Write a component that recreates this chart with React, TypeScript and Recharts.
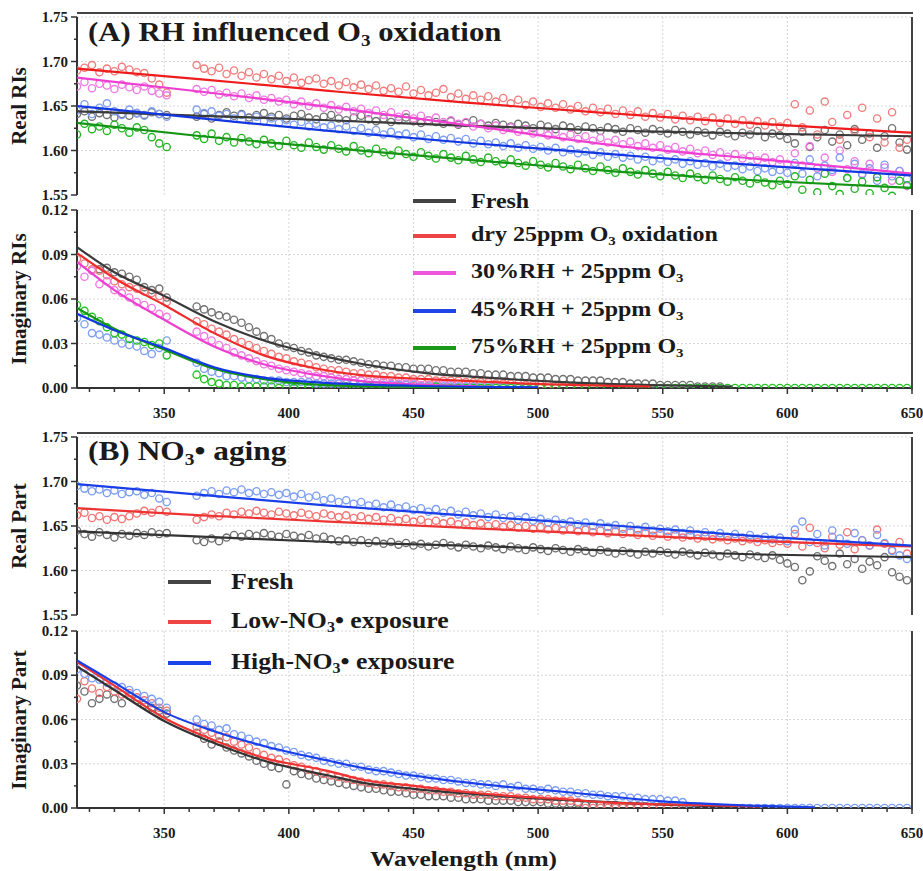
import React from "react";
import { ComposedChart, Scatter, Line, XAxis, YAxis, CartesianGrid } from "recharts";

// wavelength grid of the retrieved points (nm); gap 352-362 as in the measurement
const WL = [
  315, 318, 321, 324, 327, 330, 333, 336, 339, 342, 345, 348, 351,
  363, 366, 369, 372, 375, 378, 381, 384, 387, 390,
  393, 396, 399, 402, 405, 408, 411, 414, 417, 420,
  423, 426, 429, 432, 435, 438, 441, 444, 447, 450,
  453, 456, 459, 462, 465, 468, 471, 474, 477, 480,
  483, 486, 489, 492, 495, 498, 501, 504, 507, 510,
  513, 516, 519, 522, 525, 528, 531, 534, 537, 540,
  543, 546, 549, 552, 555, 558, 561, 564, 567, 570,
  573, 576, 579, 582, 585, 588, 591, 594, 597, 600,
  603, 606, 609, 612, 615, 618, 621, 624, 627, 630,
  633, 636, 639, 642, 645, 648,
];

// ---- (A) real part ----
const A_RE_FRESH = [
  1.641, 1.644, 1.638, 1.642, 1.640, 1.637, 1.641, 1.639, 1.642, 1.640, 1.643, 1.641, 1.640,
  1.638, 1.641, 1.636, 1.640, 1.643, 1.639, 1.641, 1.637, 1.640, 1.642,
  1.638, 1.640, 1.636, 1.639, 1.641, 1.637, 1.635, 1.638, 1.640, 1.636,
  1.634, 1.637, 1.639, 1.635, 1.633, 1.636, 1.632, 1.634, 1.637, 1.633,
  1.631, 1.634, 1.632, 1.630, 1.633, 1.629, 1.631, 1.634, 1.630, 1.628,
  1.631, 1.629, 1.627, 1.630, 1.628, 1.625, 1.629, 1.627, 1.624, 1.628,
  1.626, 1.623, 1.627, 1.625, 1.622, 1.626, 1.624, 1.621, 1.625, 1.623,
  1.620, 1.624, 1.622, 1.619, 1.623, 1.621, 1.618, 1.622, 1.620, 1.617,
  1.621, 1.619, 1.616, 1.620, 1.618, 1.622, 1.615, 1.619, 1.617, 1.613,
  1.608, 1.621, 1.604, 1.615, 1.623, 1.610, 1.618, 1.606, 1.624, 1.612,
  1.619, 1.603, 1.616, 1.625, 1.609, 1.601,
];
const A_RE_DRY = [
  1.690, 1.693, 1.696, 1.688, 1.692, 1.689, 1.694, 1.691, 1.688, 1.687, 1.681, 1.674, 1.665,
  1.696, 1.692, 1.689, 1.693, 1.686, 1.690, 1.684, 1.688, 1.682, 1.686,
  1.680, 1.684, 1.678, 1.682, 1.676, 1.679, 1.681, 1.675, 1.678, 1.673,
  1.677, 1.671, 1.674, 1.669, 1.673, 1.667, 1.670, 1.666, 1.672, 1.664,
  1.668, 1.662, 1.665, 1.669, 1.660, 1.664, 1.658, 1.662, 1.657, 1.661,
  1.655, 1.659, 1.653, 1.657, 1.651, 1.655, 1.649, 1.653, 1.648, 1.652,
  1.646, 1.650, 1.644, 1.648, 1.643, 1.647, 1.641, 1.645, 1.640, 1.644,
  1.638, 1.642, 1.637, 1.641, 1.635, 1.639, 1.634, 1.638, 1.633, 1.637,
  1.631, 1.636, 1.630, 1.634, 1.629, 1.633, 1.628, 1.632, 1.627, 1.631,
  1.652, 1.626, 1.645, 1.618, 1.655, 1.632, 1.612, 1.640, 1.622, 1.648,
  1.615, 1.636, 1.609, 1.643, 1.603, 1.612,
];
const A_RE_RH30 = [
  1.672, 1.677, 1.670, 1.675, 1.673, 1.669, 1.674, 1.671, 1.668, 1.672, 1.667, 1.664, 1.662,
  1.669, 1.666, 1.668, 1.663, 1.665, 1.661, 1.664, 1.659, 1.662, 1.657,
  1.659, 1.655, 1.657, 1.652, 1.655, 1.650, 1.653, 1.648, 1.651, 1.646,
  1.649, 1.644, 1.647, 1.642, 1.645, 1.640, 1.643, 1.638, 1.641, 1.636,
  1.639, 1.634, 1.637, 1.632, 1.634, 1.630, 1.632, 1.627, 1.630, 1.625,
  1.628, 1.623, 1.626, 1.621, 1.624, 1.619, 1.622, 1.617, 1.620, 1.615,
  1.618, 1.613, 1.616, 1.611, 1.614, 1.609, 1.612, 1.607, 1.610, 1.605,
  1.608, 1.603, 1.606, 1.601, 1.604, 1.599, 1.602, 1.597, 1.600, 1.595,
  1.598, 1.593, 1.596, 1.591, 1.594, 1.589, 1.592, 1.587, 1.590, 1.585,
  1.597, 1.583, 1.605, 1.580, 1.592, 1.576, 1.600, 1.579, 1.588, 1.574,
  1.585, 1.570, 1.581, 1.566, 1.577, 1.560,
];
const A_RE_RH45 = [
  1.645, 1.652, 1.641, 1.648, 1.653, 1.644, 1.640, 1.646, 1.642, 1.639, 1.644, 1.641, 1.638,
  1.646, 1.642, 1.644, 1.639, 1.641, 1.636, 1.640, 1.634, 1.638, 1.633,
  1.636, 1.631, 1.634, 1.629, 1.632, 1.627, 1.630, 1.626, 1.628, 1.624,
  1.627, 1.622, 1.625, 1.620, 1.623, 1.618, 1.621, 1.617, 1.619, 1.615,
  1.618, 1.613, 1.616, 1.612, 1.614, 1.610, 1.613, 1.608, 1.611, 1.607,
  1.609, 1.605, 1.608, 1.603, 1.606, 1.602, 1.604, 1.600, 1.603, 1.598,
  1.601, 1.597, 1.599, 1.595, 1.598, 1.593, 1.596, 1.592, 1.594, 1.590,
  1.593, 1.588, 1.591, 1.587, 1.590, 1.585, 1.588, 1.584, 1.586, 1.582,
  1.585, 1.581, 1.583, 1.579, 1.582, 1.577, 1.580, 1.576, 1.578, 1.575,
  1.586, 1.574, 1.590, 1.571, 1.583, 1.578, 1.592, 1.569, 1.585, 1.573,
  1.580, 1.566, 1.584, 1.571, 1.577, 1.568,
];
const A_RE_RH75 = [
  1.618, 1.630, 1.624, 1.627, 1.622, 1.629, 1.625, 1.620, 1.626, 1.623, 1.615, 1.608, 1.604,
  1.617, 1.613, 1.619, 1.611, 1.615, 1.609, 1.614, 1.610, 1.607, 1.612,
  1.608, 1.605, 1.611, 1.606, 1.603, 1.609, 1.604, 1.601, 1.606, 1.602,
  1.599, 1.605, 1.600, 1.597, 1.602, 1.598, 1.595, 1.600, 1.596, 1.593,
  1.598, 1.594, 1.591, 1.596, 1.592, 1.589, 1.594, 1.590, 1.587, 1.592,
  1.588, 1.585, 1.590, 1.586, 1.583, 1.588, 1.584, 1.581, 1.586, 1.582,
  1.579, 1.584, 1.580, 1.577, 1.582, 1.578, 1.575, 1.580, 1.576, 1.573,
  1.578, 1.574, 1.571, 1.576, 1.572, 1.569, 1.574, 1.570, 1.567, 1.572,
  1.568, 1.565, 1.570, 1.566, 1.563, 1.568, 1.564, 1.561, 1.566, 1.562,
  1.571, 1.556, 1.567, 1.553, 1.574, 1.560, 1.551, 1.569, 1.557, 1.565,
  1.552, 1.570, 1.558, 1.549, 1.566, 1.561,
];

// ---- (A) imaginary part ----
const A_IM_FRESH = [
  null, null, null, 0.080, 0.081, 0.078, 0.077, 0.075, 0.073, 0.068, 0.066, 0.067, 0.061,
  0.055, 0.053, 0.051, 0.049, 0.048, 0.046, 0.044, 0.041, 0.038, 0.035,
  0.033, 0.030, 0.028, 0.027, 0.025, 0.024, 0.022, 0.021, 0.020, 0.019,
  0.019, 0.018, 0.017, 0.016, 0.016, 0.015, 0.015, 0.014, 0.014, 0.013,
  0.013, 0.013, 0.012, 0.012, 0.011, 0.011, 0.011, 0.010, 0.010, 0.009,
  0.009, 0.009, 0.008, 0.008, 0.008, 0.007, 0.007, 0.007, 0.006, 0.006,
  0.006, 0.005, 0.005, 0.005, 0.005, 0.004, 0.004, 0.004, 0.003, 0.003,
  0.003, 0.003, 0.002, 0.002, 0.002, 0.002, 0.002, 0.001, 0.001, 0.001,
  0.001,
];
const A_IM_DRY = [
  0.087, 0.084, 0.080, 0.079, 0.076, 0.072, 0.070, 0.068, 0.067, 0.065, 0.064, 0.062, 0.058,
  0.045, 0.043, 0.040, 0.038, 0.036, 0.033, 0.031, 0.029, 0.027, 0.025,
  0.023, 0.021, 0.020, 0.018, 0.017, 0.016, 0.014, 0.013, 0.012, 0.012,
  0.011, 0.010, 0.010, 0.009, 0.009, 0.008, 0.008, 0.007, 0.007, 0.006,
  0.006, 0.006, 0.005, 0.005, 0.005, 0.005, 0.004, 0.004, 0.004, 0.004,
  0.003, 0.003, 0.003, 0.003, 0.002, 0.002, 0.002, 0.002, 0.002, 0.001,
  0.001, 0.001, 0.001,
];
const A_IM_RH30 = [
  0.082, 0.075, 0.079, 0.070, 0.072, 0.066, 0.064, 0.061, 0.058, 0.056, 0.054, 0.050, 0.048,
  0.038, 0.035, 0.032, 0.029, 0.027, 0.024, 0.022, 0.020, 0.018, 0.016,
  0.015, 0.013, 0.012, 0.011, 0.010, 0.009, 0.008, 0.008, 0.007, 0.006,
  0.006, 0.005, 0.005, 0.004, 0.004, 0.004, 0.003, 0.003, 0.003, 0.003,
  0.002, 0.002, 0.002, 0.002, 0.002, 0.001, 0.001, 0.001,
];
const A_IM_RH45 = [
  0.047, 0.043, 0.037, 0.036, 0.034, 0.032, 0.030, 0.029, 0.028, 0.025, 0.023, 0.027, 0.032,
  0.017, 0.013, 0.011, 0.010, 0.008, 0.008, 0.007, 0.006, 0.006, 0.005,
  0.005, 0.005, 0.004, 0.004, 0.004, 0.004, 0.003, 0.003, 0.003, 0.003,
  0.003, 0.003, 0.002, 0.002, 0.002, 0.002, 0.002, 0.002, 0.002, 0.002,
  0.001, 0.001, 0.001, 0.001, 0.001, 0.001, 0.001, 0.001, 0.001, 0.001,
  0.001, 0.001, 0.001, 0.001, 0.000, 0.000,
];
const A_IM_RH75 = [
  0.056, 0.052, 0.048, 0.045, 0.041, 0.037, 0.036, 0.033, 0.032, 0.031, 0.029, 0.030, 0.022,
  0.009, 0.006, 0.004, 0.003, 0.002, 0.002, 0.001, 0.001, 0.001, 0.001,
  0.001, 0.000, 0.001, 0.000, 0.001, 0.000, 0.000, 0.001, 0.000, 0.000,
  0.001, 0.000, 0.000, 0.001, 0.000, 0.000, 0.000, 0.001, 0.000, 0.000,
  0.000, 0.000, 0.001, 0.000, 0.000, 0.000, 0.000, 0.000, 0.000, 0.000,
  0.000, 0.000, 0.000, 0.000, 0.000, 0.000, 0.000, 0.000, 0.000, 0.000,
  0.000, 0.000, 0.000, 0.000, 0.000, 0.000, 0.000, 0.000, 0.000, 0.000,
  0.000, 0.000, 0.000, 0.000, 0.000, 0.000, 0.000, 0.000, 0.000, 0.000,
  0.000, 0.000, 0.000, 0.000, 0.000, 0.000, 0.000, 0.000, 0.000, 0.000,
  0.000, 0.000, 0.000, 0.000, 0.000, 0.000, 0.000, 0.000, 0.000, 0.000,
  0.000, 0.000, 0.000, 0.000, 0.000, 0.000,
];

// ---- (B) real part ----
const B_RE_FRESH = [
  1.645, 1.641, 1.638, 1.643, 1.640, 1.637, 1.641, 1.639, 1.642, 1.640, 1.643, 1.641, 1.642,
  1.634, 1.632, 1.636, 1.633, 1.637, 1.640, 1.638, 1.641, 1.639, 1.642,
  1.640, 1.638, 1.641, 1.639, 1.637, 1.640, 1.636, 1.638, 1.635, 1.633,
  1.635, 1.632, 1.634, 1.631, 1.633, 1.630, 1.632, 1.629, 1.631, 1.628,
  1.630, 1.627, 1.629, 1.631, 1.628, 1.626, 1.629, 1.627, 1.625, 1.628,
  1.626, 1.624, 1.627, 1.625, 1.623, 1.626, 1.624, 1.622, 1.625, 1.623,
  1.621, 1.624, 1.622, 1.620, 1.623, 1.621, 1.619, 1.622, 1.620, 1.618,
  1.621, 1.619, 1.622, 1.620, 1.618, 1.621, 1.619, 1.617, 1.620, 1.618,
  1.616, 1.619, 1.617, 1.615, 1.618, 1.616, 1.614, 1.617, 1.612, 1.608,
  1.604, 1.589, 1.599, 1.616, 1.611, 1.605, 1.619, 1.607, 1.613, 1.602,
  1.610, 1.606, 1.615, 1.598, 1.593, 1.589,
];
const B_RE_LOW = [
  1.662, 1.665, 1.659, 1.661, 1.657, 1.660, 1.658, 1.661, 1.664, 1.667, 1.665, 1.668, 1.666,
  1.657, 1.660, 1.663, 1.661, 1.665, 1.663, 1.666, 1.664, 1.667, 1.665,
  1.663, 1.666, 1.664, 1.662, 1.665, 1.663, 1.661, 1.664, 1.662, 1.660,
  1.662, 1.659, 1.661, 1.658, 1.660, 1.657, 1.659, 1.656, 1.658, 1.655,
  1.657, 1.654, 1.656, 1.653, 1.655, 1.652, 1.654, 1.651, 1.653, 1.650,
  1.652, 1.649, 1.651, 1.648, 1.650, 1.647, 1.649, 1.646, 1.648, 1.645,
  1.647, 1.644, 1.646, 1.643, 1.645, 1.642, 1.644, 1.641, 1.643, 1.640,
  1.642, 1.639, 1.641, 1.638, 1.640, 1.637, 1.639, 1.636, 1.638, 1.635,
  1.637, 1.634, 1.636, 1.633, 1.635, 1.632, 1.634, 1.631, 1.633, 1.630,
  1.641, 1.627, 1.648, 1.631, 1.625, 1.638, 1.629, 1.643, 1.624, 1.634,
  1.628, 1.646, 1.630, 1.623, 1.632, 1.619,
];
const B_RE_HIGH = [
  1.695, 1.692, 1.689, 1.691, 1.687, 1.690, 1.686, 1.688, 1.689, 1.685, 1.687, 1.681, 1.677,
  1.684, 1.687, 1.689, 1.686, 1.690, 1.688, 1.691, 1.687, 1.689, 1.686,
  1.688, 1.685, 1.687, 1.683, 1.686, 1.682, 1.684, 1.679, 1.681, 1.677,
  1.679, 1.675, 1.677, 1.673, 1.675, 1.671, 1.674, 1.670, 1.672, 1.668,
  1.670, 1.666, 1.669, 1.665, 1.667, 1.663, 1.666, 1.662, 1.664, 1.660,
  1.663, 1.659, 1.661, 1.657, 1.660, 1.656, 1.658, 1.654, 1.657, 1.653,
  1.655, 1.652, 1.654, 1.650, 1.653, 1.649, 1.651, 1.647, 1.650, 1.646,
  1.649, 1.645, 1.647, 1.644, 1.646, 1.642, 1.645, 1.641, 1.643, 1.640,
  1.642, 1.638, 1.641, 1.637, 1.640, 1.636, 1.638, 1.635, 1.637, 1.633,
  1.646, 1.655, 1.632, 1.641, 1.628, 1.645, 1.636, 1.630, 1.642, 1.634,
  1.628, 1.640, 1.631, 1.622, 1.617, 1.613,
];

// ---- (B) imaginary part ----
const B_IM_FRESH = [
  0.083, 0.079, 0.071, 0.074, 0.077, 0.074, 0.071, 0.076, 0.073, 0.070, 0.068, 0.066, 0.064,
  0.051, 0.047, 0.043, 0.045, 0.041, 0.039, 0.037, 0.035, 0.032, 0.030,
  0.028, 0.027, 0.016, 0.025, 0.023, 0.022, 0.020, 0.019, 0.018, 0.017,
  0.016, 0.015, 0.014, 0.013, 0.013, 0.012, 0.011, 0.011, 0.010, 0.009,
  0.009, 0.008, 0.008, 0.008, 0.007, 0.007, 0.006, 0.006, 0.006, 0.005,
  0.005, 0.005, 0.005, 0.004, 0.004, 0.004, 0.004, 0.003, 0.003, 0.003,
  0.003, 0.003, 0.002, 0.002, 0.002, 0.002, 0.002, 0.001, 0.001, 0.001,
];
const B_IM_LOW = [
  0.074, 0.086, 0.081, 0.078, 0.082, 0.079, 0.077, 0.078, 0.075, 0.073, 0.071, 0.068, 0.066,
  0.055, 0.053, 0.051, 0.049, 0.048, 0.045, 0.043, 0.041, 0.038, 0.036,
  0.034, 0.033, 0.031, 0.029, 0.028, 0.026, 0.025, 0.023, 0.022, 0.021,
  0.020, 0.019, 0.018, 0.017, 0.016, 0.016, 0.015, 0.014, 0.014, 0.013,
  0.013, 0.012, 0.012, 0.011, 0.011, 0.010, 0.010, 0.009, 0.009, 0.009,
  0.008, 0.008, 0.008, 0.007, 0.007, 0.006, 0.006, 0.006, 0.005, 0.005,
  0.005, 0.004, 0.000, 0.000, 0.000, 0.000, 0.000, 0.000, 0.000, 0.000,
  0.000, 0.000, 0.000, 0.000, 0.000, 0.000,
];
const B_IM_HIGH = [
  0.094, 0.091, 0.088, 0.087, 0.085, 0.083, 0.082, 0.080, 0.078, 0.076, 0.074, 0.072, 0.068,
  0.060, 0.057, 0.056, 0.053, 0.054, 0.050, 0.049, 0.047, 0.045, 0.044,
  0.042, 0.041, 0.039, 0.038, 0.036, 0.035, 0.034, 0.032, 0.031, 0.030,
  0.030, 0.028, 0.028, 0.026, 0.025, 0.025, 0.024, 0.023, 0.022, 0.022,
  0.021, 0.020, 0.020, 0.019, 0.019, 0.018, 0.017, 0.017, 0.016, 0.016,
  0.015, 0.016, 0.014, 0.015, 0.013, 0.013, 0.012, 0.013, 0.012, 0.011,
  0.011, 0.010, 0.010, 0.009, 0.009, 0.008, 0.008, 0.008, 0.007, 0.007,
  0.006, 0.006, 0.006, 0.005, 0.005, 0.004, 0.000, 0.000, 0.000, 0.000,
  0.000, 0.000, 0.000, 0.000, 0.000, 0.000, 0.000, 0.000, 0.000, 0.000,
  0.000, 0.000, 0.000, 0.000, 0.000, 0.000, 0.000, 0.000, 0.000, 0.000,
  0.000, 0.000, 0.000, 0.000, 0.000, 0.000,
];

// ---- fitted curves ----
const FIT_RE_WL = [315, 365, 416, 470, 533, 590, 650];
const FIT_A_RE_FRESH = [1.644, 1.639, 1.634, 1.628, 1.622, 1.619, 1.616];
const FIT_A_RE_DRY = [1.692, 1.680, 1.667, 1.654, 1.641, 1.630, 1.620];
const FIT_A_RE_RH30 = [1.682, 1.666, 1.649, 1.629, 1.605, 1.590, 1.574];
const FIT_A_RE_RH45 = [1.650, 1.636, 1.622, 1.609, 1.595, 1.583, 1.572];
const FIT_A_RE_RH75 = [1.631, 1.616, 1.603, 1.590, 1.576, 1.566, 1.558];
const FIT_B_RE_FRESH = [1.644, 1.638, 1.632, 1.628, 1.622, 1.618, 1.615];
const FIT_B_RE_LOW = [1.670, 1.662, 1.655, 1.648, 1.640, 1.633, 1.627];
const FIT_B_RE_HIGH = [1.697, 1.685, 1.673, 1.662, 1.650, 1.638, 1.628];

const FIT_A_IM_FRESH = [[315, 0.095], [330, 0.078], [350, 0.062], [370, 0.045], [390, 0.032], [410, 0.023], [430, 0.016], [455, 0.010], [482, 0.0067], [510, 0.004], [545, 0.002], [578, 0.001]];
const FIT_A_IM_DRY = [[315, 0.091], [330, 0.074], [350, 0.056], [370, 0.037], [390, 0.022], [410, 0.0135], [430, 0.0085], [455, 0.006], [495, 0.003], [545, 0.001]];
const FIT_A_IM_RH30 = [[315, 0.085], [330, 0.066], [350, 0.046], [370, 0.028], [390, 0.016], [410, 0.009], [430, 0.0045], [450, 0.0025], [475, 0.0012]];
const FIT_A_IM_RH45 = [[315, 0.050], [330, 0.039], [350, 0.027], [370, 0.014], [390, 0.007], [415, 0.0035], [450, 0.0015], [500, 0.0005]];
const FIT_A_IM_RH75 = [[315, 0.054], [330, 0.040], [350, 0.026], [370, 0.013], [390, 0.006], [415, 0.002], [450, 0.0008], [500, 0.0003]];
const FIT_B_IM_FRESH = [[315, 0.096], [330, 0.080], [350, 0.059], [370, 0.044], [390, 0.032], [416, 0.022], [430, 0.017], [450, 0.013], [470, 0.010], [490, 0.0075], [510, 0.0055], [540, 0.003], [578, 0.001]];
const FIT_B_IM_LOW = [[315, 0.099], [330, 0.083], [350, 0.061], [370, 0.046], [390, 0.034], [416, 0.025], [430, 0.019], [450, 0.015], [470, 0.011], [490, 0.008], [510, 0.006], [525, 0.004], [550, 0.0025], [589, 0.001]];
const FIT_B_IM_HIGH = [[315, 0.100], [330, 0.085], [350, 0.065], [370, 0.052], [390, 0.042], [416, 0.032], [430, 0.027], [450, 0.022], [470, 0.0175], [490, 0.014], [510, 0.011], [525, 0.0085], [550, 0.0045], [580, 0.002], [611, 0.0005]];

const X_TICKS = [320, 330, 340, 350, 360, 370, 380, 390, 400, 410, 420, 430, 440, 450, 460, 470, 480, 490, 500, 510, 520, 530, 540, 550, 560, 570, 580, 590, 600, 610, 620, 630, 640, 650];
const X_GRID = [350, 400, 450, 500, 550, 600];
const RE_TICKS = [1.55, 1.575, 1.6, 1.625, 1.65, 1.675, 1.7, 1.725, 1.75];
const RE_GRID = [1.6, 1.65, 1.7, 1.75];
const IM_TICKS = [0, 0.015, 0.03, 0.045, 0.06, 0.075, 0.09, 0.105, 0.12];
const IM_GRID = [0.03, 0.06, 0.09, 0.12];

const FONT = '"Liberation Serif", "Times New Roman", serif';
const INK = "#1a1a1a";
const AXIS = "#333";

const toPts = (vals) =>
  vals.map((v, i) => ({ x: WL[i], y: v })).filter((p) => p.y !== null);
const linePts = (xs, ys) => xs.map((x, i) => ({ x, y: ys[i] }));
const pairPts = (pairs) => pairs.map(([x, y]) => ({ x, y }));

const ring = (color) => (props) =>
  props.cx == null ? null : (
    <circle cx={props.cx} cy={props.cy} r={3.6} fill="none" stroke={color} strokeWidth={1.35} />
  );

function XTick(props) {
  const { x, y, payload } = props;
  const major = payload.value % 50 === 0;
  return (
    <g>
      <line x1={x} y1={y} x2={x} y2={y + (major ? 6 : 4)} stroke={AXIS} strokeWidth={1.5} />
      {major && (
        <text x={x} y={y + 30} textAnchor="middle" fontFamily={FONT} fontWeight="bold" fontSize={15} fill={INK}>
          {payload.value}
        </text>
      )}
    </g>
  );
}

const makeYTick = (step) => (props) => {
  const { x, y, payload } = props;
  const v = payload.value;
  const major = Math.abs(v / step - Math.round(v / step)) < 1e-6;
  return (
    <g>
      <line x1={x - (major ? 6 : 3)} y1={y} x2={x} y2={y} stroke={AXIS} strokeWidth={1.5} />
      {major && (
        <text x={x - 9} y={y + 5} textAnchor="end" fontFamily={FONT} fontWeight="bold" fontSize={15} fill={INK}>
          {v.toFixed(2)}
        </text>
      )}
    </g>
  );
};

function Panel({ top, height, marginTop, marginBottom, domain, ticks, grid, step, showX, scatters, fits }) {
  return (
    <div style={{ position: "absolute", left: 0, top }}>
      <ComposedChart width={923} height={height} margin={{ top: marginTop, right: 11, bottom: marginBottom, left: 27 }}>
        <CartesianGrid horizontalValues={grid} verticalValues={X_GRID} stroke="#d6d6d6" strokeDasharray="2 2" />
        <XAxis
          type="number"
          dataKey="x"
          domain={[315, 650]}
          ticks={X_TICKS}
          interval={0}
          hide={!showX}
          height={42}
          allowDataOverflow
          tickLine={false}
          tickSize={0}
          tickMargin={0}
          tick={<XTick />}
          axisLine={{ stroke: AXIS, strokeWidth: 2 }}
        />
        <YAxis
          type="number"
          dataKey="y"
          domain={domain}
          ticks={ticks}
          interval={0}
          width={50}
          allowDataOverflow
          tickLine={false}
          tickSize={0}
          tickMargin={0}
          tick={makeYTick(step)}
          axisLine={{ stroke: AXIS, strokeWidth: 2 }}
        />
        {scatters.map((s) => (
          <Scatter key={s.name} name={s.name} data={s.data} dataKey="y" shape={ring(s.color)} isAnimationActive={false} />
        ))}
        {fits.map((f) => (
          <Line
            key={f.name}
            name={f.name}
            data={f.data}
            dataKey="y"
            type="monotone"
            stroke={f.color}
            strokeWidth={2.2}
            dot={false}
            activeDot={false}
            zIndex={700}
            isAnimationActive={false}
          />
        ))}
      </ComposedChart>
    </div>
  );
}

const sub3 = <span style={{ fontSize: "0.62em", verticalAlign: "-0.3em" }}>3</span>;
const O3 = <>O{sub3}</>;
const NO3 = <>NO{sub3}</>;

function Stretched({ left, top, size, sx, children }) {
  return (
    <div
      style={{
        position: "absolute",
        left,
        top,
        fontFamily: FONT,
        fontWeight: "bold",
        fontSize: size,
        lineHeight: 1,
        color: INK,
        whiteSpace: "nowrap",
        transform: `scaleX(${sx})`,
        transformOrigin: "left center",
      }}
    >
      {children}
    </div>
  );
}

function LegendRow({ x, y, len, color, size, sx, children, gap }) {
  return (
    <div style={{ position: "absolute", left: x, top: y - 15, height: 30, display: "flex", alignItems: "center", whiteSpace: "nowrap" }}>
      <div style={{ width: len, height: 4, background: color, marginRight: gap }} />
      <span
        style={{
          fontFamily: FONT,
          fontWeight: "bold",
          fontSize: size,
          color: INK,
          display: "inline-block",
          transform: `scaleX(${sx})`,
          transformOrigin: "left center",
        }}
      >
        {children}
      </span>
    </div>
  );
}

function AxisTitle({ x, y, children }) {
  return (
    <div
      style={{
        position: "absolute",
        left: x,
        top: y,
        transform: "translate(-50%, -50%) rotate(-90deg)",
        whiteSpace: "nowrap",
        fontFamily: FONT,
        fontWeight: "bold",
        fontSize: 21,
        color: INK,
      }}
    >
      {children}
    </div>
  );
}

const hLine = (left, top, width) => (
  <div style={{ position: "absolute", left, top, width, height: 2, background: "#444" }} />
);
const vLine = (left, top, height) => (
  <div style={{ position: "absolute", left, top, width: 2, height, background: "#444" }} />
);

export default function App() {
  return (
    <div style={{ position: "absolute", left: 0, top: 0, width: 923, height: 871, background: "#fff", overflow: "hidden" }}>
      <Panel
        top={0}
        height={215}
        marginTop={17}
        marginBottom={20}
        domain={[1.55, 1.75]}
        ticks={RE_TICKS}
        grid={RE_GRID}
        step={0.05}
        showX={false}
        scatters={[
          { name: "Fresh", data: toPts(A_RE_FRESH), color: "#727272" },
          { name: "dry", data: toPts(A_RE_DRY), color: "#f27c7c" },
          { name: "rh30", data: toPts(A_RE_RH30), color: "#f07ae4" },
          { name: "rh45", data: toPts(A_RE_RH45), color: "#7f9ff2" },
          { name: "rh75", data: toPts(A_RE_RH75), color: "#25b525" },
        ]}
        fits={[
          { name: "fFresh", data: linePts(FIT_RE_WL, FIT_A_RE_FRESH), color: "#3a3a3a" },
          { name: "fdry", data: linePts(FIT_RE_WL, FIT_A_RE_DRY), color: "#ee1c1c" },
          { name: "frh30", data: linePts(FIT_RE_WL, FIT_A_RE_RH30), color: "#ee3fd0" },
          { name: "frh45", data: linePts(FIT_RE_WL, FIT_A_RE_RH45), color: "#1237e0" },
          { name: "frh75", data: linePts(FIT_RE_WL, FIT_A_RE_RH75), color: "#149414" },
        ]}
      />
      <Panel
        top={200}
        height={235}
        marginTop={10}
        marginBottom={5}
        domain={[0, 0.12]}
        ticks={IM_TICKS}
        grid={IM_GRID}
        step={0.03}
        showX
        scatters={[
          { name: "Fresh", data: toPts(A_IM_FRESH), color: "#727272" },
          { name: "dry", data: toPts(A_IM_DRY), color: "#f27c7c" },
          { name: "rh30", data: toPts(A_IM_RH30), color: "#f07ae4" },
          { name: "rh45", data: toPts(A_IM_RH45), color: "#7f9ff2" },
          { name: "rh75", data: toPts(A_IM_RH75), color: "#22c422" },
        ]}
        fits={[
          { name: "fFresh", data: pairPts(FIT_A_IM_FRESH), color: "#3a3a3a" },
          { name: "fdry", data: pairPts(FIT_A_IM_DRY), color: "#ee2a2a" },
          { name: "frh30", data: pairPts(FIT_A_IM_RH30), color: "#ee3fd0" },
          { name: "frh75", data: pairPts(FIT_A_IM_RH75), color: "#149414" },
          { name: "frh45", data: pairPts(FIT_A_IM_RH45), color: "#1237e0" },
        ]}
      />
      <Panel
        top={420}
        height={215}
        marginTop={17}
        marginBottom={20}
        domain={[1.55, 1.75]}
        ticks={RE_TICKS}
        grid={RE_GRID}
        step={0.05}
        showX={false}
        scatters={[
          { name: "Fresh", data: toPts(B_RE_FRESH), color: "#6f6f6f" },
          { name: "low", data: toPts(B_RE_LOW), color: "#f27474" },
          { name: "high", data: toPts(B_RE_HIGH), color: "#7b9df2" },
        ]}
        fits={[
          { name: "fFresh", data: linePts(FIT_RE_WL, FIT_B_RE_FRESH), color: "#333333" },
          { name: "flow", data: linePts(FIT_RE_WL, FIT_B_RE_LOW), color: "#ee3333" },
          { name: "fhigh", data: linePts(FIT_RE_WL, FIT_B_RE_HIGH), color: "#1a3fe8" },
        ]}
      />
      <Panel
        top={620}
        height={235}
        marginTop={11}
        marginBottom={5}
        domain={[0, 0.12]}
        ticks={IM_TICKS}
        grid={IM_GRID}
        step={0.03}
        showX
        scatters={[
          { name: "Fresh", data: toPts(B_IM_FRESH), color: "#6f6f6f" },
          { name: "low", data: toPts(B_IM_LOW), color: "#f27474" },
          { name: "high", data: toPts(B_IM_HIGH), color: "#7b9df2" },
        ]}
        fits={[
          { name: "fFresh", data: pairPts(FIT_B_IM_FRESH), color: "#333333" },
          { name: "flow", data: pairPts(FIT_B_IM_LOW), color: "#ee3333" },
          { name: "fhigh", data: pairPts(FIT_B_IM_HIGH), color: "#1a3fe8" },
        ]}
      />

      {/* frames */}
      {hLine(77, 12, 836)}
      {vLine(911, 17, 178)}
      {vLine(911, 210, 180)}
      {hLine(77, 432, 836)}
      {vLine(911, 437, 178)}
      {vLine(911, 631, 179)}

      {/* titles */}
      <Stretched left={88} top={18} size={28} sx={1.1}>
        (A) RH influenced {O3} oxidation
      </Stretched>
      <Stretched left={88} top={437} size={28} sx={1.12}>
        (B) {NO3}• aging
      </Stretched>

      <AxisTitle x={19} y={106}>Real RIs</AxisTitle>
      <AxisTitle x={19} y={299}>Imaginary RIs</AxisTitle>
      <AxisTitle x={19} y={526}>Real Part</AxisTitle>
      <AxisTitle x={19} y={720}>Imaginary Part</AxisTitle>
      <Stretched left={370} top={849} size={21} sx={1.21}>
        Wavelength (nm)
      </Stretched>

      {/* legend A */}
      <LegendRow x={413} y={201} len={43} gap={15} size={20} sx={1.2} color="#444444">Fresh</LegendRow>
      <LegendRow x={413} y={236} len={43} gap={15} size={20} sx={1.2} color="#ee4444">dry 25ppm {O3} oxidation</LegendRow>
      <LegendRow x={413} y={273} len={43} gap={15} size={20} sx={1.2} color="#ee55dd">30%RH + 25ppm {O3}</LegendRow>
      <LegendRow x={413} y={311} len={43} gap={15} size={20} sx={1.2} color="#1f45e6">45%RH + 25ppm {O3}</LegendRow>
      <LegendRow x={413} y={348} len={43} gap={15} size={20} sx={1.2} color="#1a9a1a">75%RH + 25ppm {O3}</LegendRow>

      {/* legend B */}
      <LegendRow x={168} y={582} len={43} gap={20} size={23} sx={1.12} color="#444444">Fresh</LegendRow>
      <LegendRow x={168} y={622} len={43} gap={20} size={23} sx={1.12} color="#ee4444">Low-{NO3}• exposure</LegendRow>
      <LegendRow x={168} y={663} len={43} gap={20} size={23} sx={1.12} color="#1a44e8">High-{NO3}• exposure</LegendRow>
    </div>
  );
}
